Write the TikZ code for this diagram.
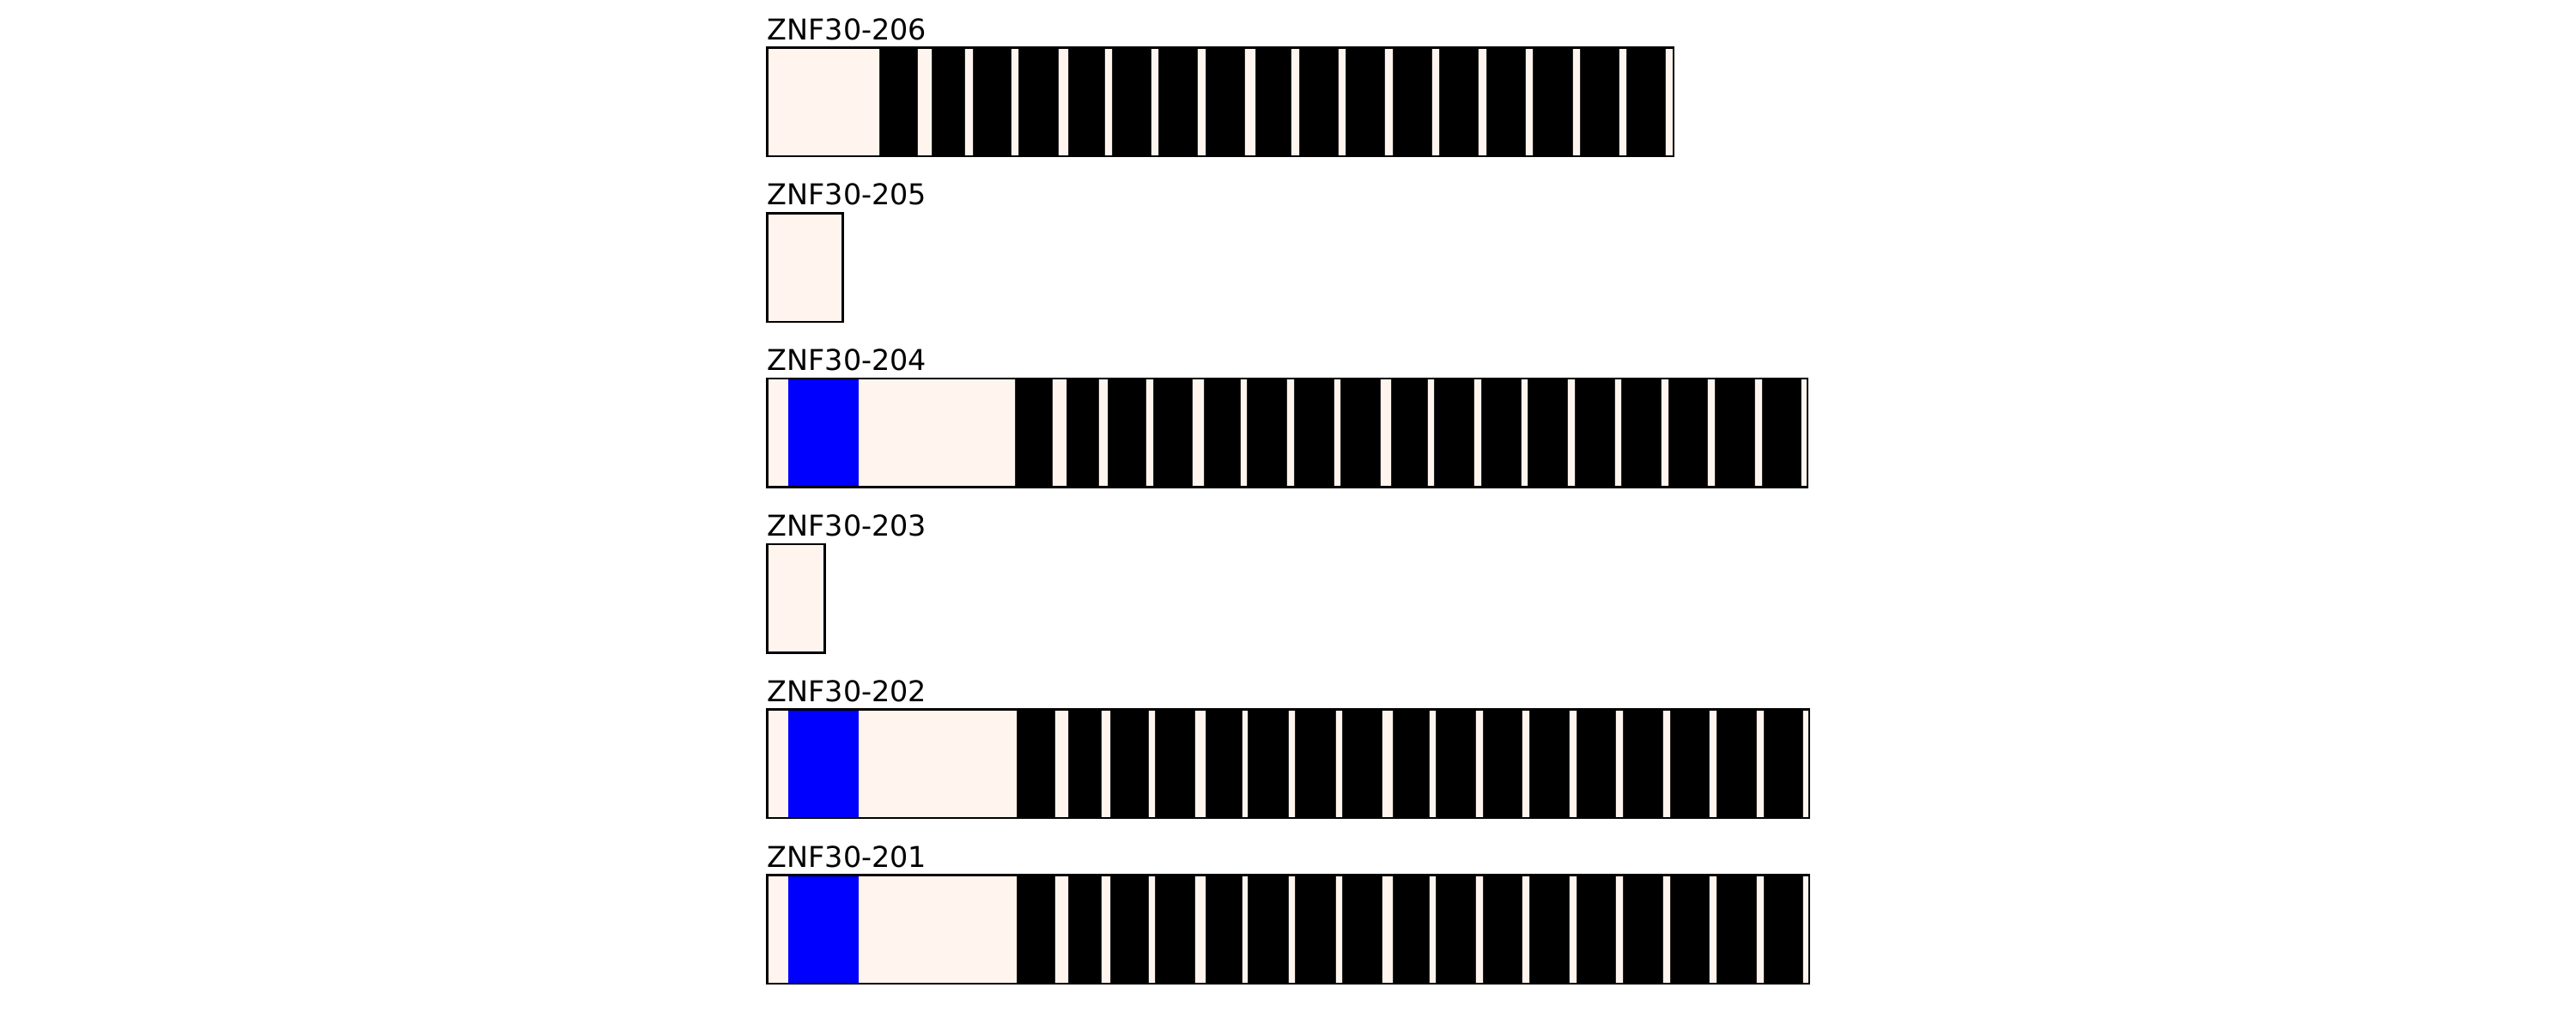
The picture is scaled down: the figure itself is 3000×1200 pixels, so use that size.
\documentclass[tikz,border=0pt]{standalone}
\usepackage{fontspec}
\setmainfont{DejaVu Sans}
\usepackage{tikz}
\usetikzlibrary{positioning}
\usepackage{xcolor}
\definecolor{seashell}{HTML}{FFF5EE}
\definecolor{sigblue}{HTML}{0000FF}
\tikzset{
  utr/.style={fill=seashell},
  sigdom/.style={fill=sigblue},
  zfdom/.style={fill=black,draw=black!85,line width=0.15pt},
  outline/.style={draw=black,line width=0.7pt},
  tlabel/.style={font=\fontsize{9.5pt}{11pt}\selectfont,anchor=base west,inner sep=0pt}
}
% domain lists (start/end, in px)
\def\zfA{1024/1068,1085/1123,1133/1177,1186/1232,1244/1286,1295/1340,1349/1394.5,1404/1449,1462/1503.6,1513/1558,1567.5/1612.7,1622/1667,1676/1721.7,1731/1776,1785/1830.8,1840/1885,1894/1939.4}
\def\zfB{1182.5/1225.7,1242.5/1279.3,1290.7/1334.6,1343.2/1388.6,1402.5/1444,1452/1498,1507/1553,1561/1607,1620/1662,1670/1716,1725/1771,1779/1825,1834/1880,1888/1934,1943/1988,1997/2043,2052/2097}
\def\zfC{1184/1228,1244/1282,1293/1337,1345/1391,1404/1446,1453/1500.5,1508.5/1555,1563/1609,1622/1664.5,1672/1718.5,1727/1772.5,1781/1827.5,1836/1881.5,1890/1936,1945/1990,1999/2045.5,2054/2099.5}
\begin{document}
\begin{tikzpicture}[x=0.01cm,y=-0.01cm]
  \useasboundingbox (0,0) rectangle (3000,1200);
  % ZNF30-206
  \begin{scope}[shift={(0,55.5)}]
    \node[tlabel] (t206) at (893,-9.5) {ZNF30-206};
    \fill[utr] (893.5,0) rectangle (1949,126.5);
    \foreach \a/\b in \zfA \filldraw[zfdom] (\a,0) rectangle (\b,126.5);
    \draw[outline] (893.5,0) rectangle (1949,126.5);
  \end{scope}
  % ZNF30-205
  \begin{scope}[shift={(0,248.3)}]
    \node[tlabel] (t205) at (893,-9.5) {ZNF30-205};
    \draw[utr,outline] (893.5,0) rectangle (981.5,126.5);
  \end{scope}
  % ZNF30-204
  \begin{scope}[shift={(0,441.1)}]
    \node[tlabel] (t204) at (893,-9.5) {ZNF30-204};
    \fill[utr] (893.5,0) rectangle (2105,126.5);
    \fill[sigdom] (917.5,0) rectangle (999.6,126.5);
    \foreach \a/\b in \zfB \filldraw[zfdom] (\a,0) rectangle (\b,126.5);
    \draw[outline] (893.5,0) rectangle (2105,126.5);
  \end{scope}
  % ZNF30-203
  \begin{scope}[shift={(0,633.9)}]
    \node[tlabel] (t203) at (893,-9.5) {ZNF30-203};
    \draw[utr,outline] (893.5,0) rectangle (960.5,126.5);
  \end{scope}
  % ZNF30-202 and ZNF30-201
  \foreach \nm/\oy in {202/826.7,201/1019.5}{
    \begin{scope}[shift={(0,\oy)}]
      \node[tlabel] (t\nm) at (893,-9.5) {ZNF30-\nm};
      \fill[utr] (893.5,0) rectangle (2107,126.5);
      \fill[sigdom] (917.5,0) rectangle (999.6,126.5);
      \foreach \a/\b in \zfC \filldraw[zfdom] (\a,0) rectangle (\b,126.5);
      \draw[outline] (893.5,0) rectangle (2107,126.5);
    \end{scope}
  }
\end{tikzpicture}
\end{document}
